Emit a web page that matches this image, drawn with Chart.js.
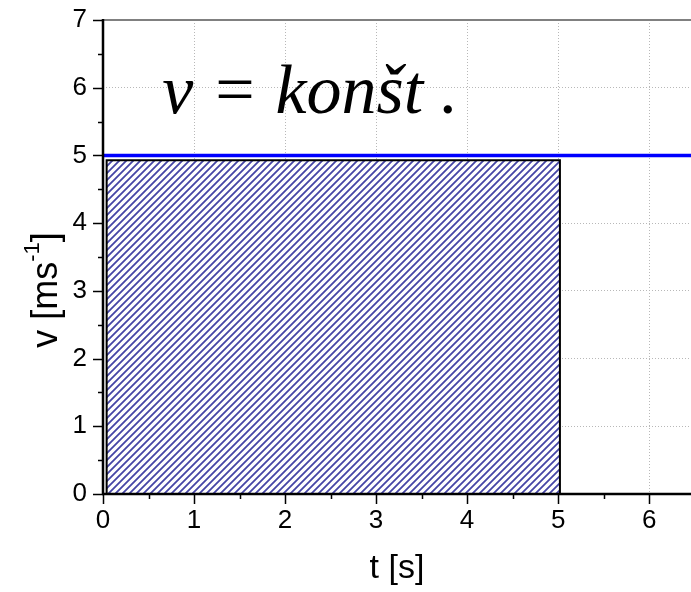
<!DOCTYPE html>
<html>
<head>
<meta charset="utf-8">
<script src="https://cdn.jsdelivr.net/npm/chart.js@4/dist/chart.umd.min.js"></script>
<style>
  html, body { margin: 0; padding: 0; background: #fff; }
  #wrap { width: 691px; height: 592px; }
</style>
</head>
<body>
<div id="wrap"><canvas id="chart" width="691" height="592"></canvas></div>
<script>
// data
const areaT = [0.04, 0.04, 5.02, 5.02];
const areaV = [0, 4.93, 4.93, 0];
const lineT = [0, 6.46];
const lineV = [5, 5];
const xTicks = [0, 1, 2, 3, 4, 5, 6];
const yTicks = [0, 1, 2, 3, 4, 5, 6, 7];
const xMinor = [0.5, 1.5, 2.5, 3.5, 4.5, 5.5];
const yMinor = [0.5, 1.5, 2.5, 3.5, 4.5, 5.5, 6.5];

const SANS = "'Liberation Sans', Arial, sans-serif";
const SERIF = "'Liberation Serif', 'Times New Roman', serif";

// hatch pattern for the area under v(t)
function hatch() {
  const n = 7;
  const c = document.createElement('canvas');
  c.width = n; c.height = n;
  const g = c.getContext('2d');
  g.fillStyle = '#fff';
  g.fillRect(0, 0, n, n);
  g.strokeStyle = '#4545a6';
  g.lineWidth = 1.8;
  g.beginPath();
  g.moveTo(-1, n + 1); g.lineTo(n + 1, -1);
  g.moveTo(-1, 1); g.lineTo(1, -1);
  g.moveTo(n - 1, n + 1); g.lineTo(n + 1, n - 1);
  g.stroke();
  return g.createPattern(c, 'repeat');
}

const axesPlugin = {
  id: 'axesPlugin',
  afterDatasetsDraw(chart) {
    const ctx = chart.ctx;
    const x = chart.scales.x, y = chart.scales.y;
    const a = chart.chartArea;
    ctx.save();
    // top frame line
    ctx.strokeStyle = '#808080';
    ctx.lineWidth = 2;
    ctx.beginPath();
    ctx.moveTo(a.left, a.top); ctx.lineTo(a.right, a.top);
    ctx.stroke();
    // axis lines
    ctx.strokeStyle = '#000';
    ctx.lineWidth = 2.5;
    ctx.beginPath();
    ctx.moveTo(a.left, a.top - 1); ctx.lineTo(a.left, a.bottom + 1);
    ctx.moveTo(a.left - 1, a.bottom); ctx.lineTo(a.right, a.bottom);
    ctx.stroke();
    // ticks
    ctx.lineWidth = 1.5;
    ctx.beginPath();
    xTicks.forEach(v => { const p = Math.round(x.getPixelForValue(v)) + 0.5; ctx.moveTo(p, a.bottom); ctx.lineTo(p, a.bottom + 10); });
    xMinor.forEach(v => { const p = Math.round(x.getPixelForValue(v)) + 0.5; ctx.moveTo(p, a.bottom); ctx.lineTo(p, a.bottom + 5); });
    yTicks.forEach(v => { const p = Math.round(y.getPixelForValue(v)) + 0.5; ctx.moveTo(a.left, p); ctx.lineTo(a.left - 10, p); });
    yMinor.forEach(v => { const p = Math.round(y.getPixelForValue(v)) + 0.5; ctx.moveTo(a.left, p); ctx.lineTo(a.left - 5, p); });
    ctx.stroke();

    // x title
    ctx.fillStyle = '#000';
    ctx.font = '34px ' + SANS;
    ctx.textAlign = 'center';
    ctx.textBaseline = 'alphabetic';
    ctx.fillText('t [s]', (a.left + a.right) / 2, 578);

    // y title with superscript
    ctx.save();
    ctx.translate(57, 290);
    ctx.rotate(-Math.PI / 2);
    ctx.textAlign = 'left';
    const big = '36px ' + SANS, small = '22px ' + SANS;
    ctx.font = big;
    const w1 = ctx.measureText('v [ms').width;
    const w3 = ctx.measureText(']').width;
    ctx.font = small;
    const w2 = ctx.measureText('-1').width;
    let cx = -(w1 + w2 + w3) / 2;
    ctx.font = big; ctx.fillText('v [ms', cx, 0); cx += w1;
    ctx.font = small; ctx.fillText('-1', cx, -18); cx += w2;
    ctx.font = big; ctx.fillText(']', cx, 0);
    ctx.restore();

    // annotation
    ctx.font = 'italic 70px ' + SERIF;
    ctx.textAlign = 'left';
    ctx.fillText('v = konšt .', x.getPixelForValue(0.65), y.getPixelForValue(5.63));
    ctx.restore();
  }
};

new Chart(document.getElementById('chart'), {
  type: 'line',
  data: {
    datasets: [{
      data: areaT.map((t, i) => ({ x: t, y: areaV[i] })),
      fill: 'origin',
      backgroundColor: hatch(),
      borderColor: '#000',
      borderWidth: 2,
      pointRadius: 0,
      tension: 0
    }, {
      data: lineT.map((t, i) => ({ x: t, y: lineV[i] })),
      fill: false,
      borderColor: '#0000ff',
      borderWidth: 3.5,
      pointRadius: 0
    }]
  },
  options: {
    responsive: false,
    animation: false,
    layout: { padding: { top: 20, right: 0, left: 0, bottom: 0 } },
    plugins: {
      legend: { display: false },
      tooltip: { enabled: false }
    },
    scales: {
      x: {
        type: 'linear',
        min: 0,
        max: 6.46,
        afterBuildTicks: s => { s.ticks = xTicks.map(v => ({ value: v })); },
        afterFit: s => { s.height = 98; s.paddingLeft = 0; s.paddingRight = 0; },
        grid: {
          drawTicks: false,
          color: c => (c.tick && c.tick.value === 0) ? 'rgba(0,0,0,0)' : '#b8b8b8',
          lineWidth: 1
        },
        border: { display: false, dash: [1, 2] },
        ticks: { color: '#000', padding: 11, font: { family: SANS, size: 26 } }
      },
      y: {
        type: 'linear',
        min: 0,
        max: 7,
        afterBuildTicks: s => { s.ticks = yTicks.map(v => ({ value: v })); },
        afterFit: s => { s.width = 103; s.paddingTop = 0; s.paddingBottom = 0; },
        grid: {
          drawTicks: false,
          color: c => (c.tick && (c.tick.value === 0 || c.tick.value === 7)) ? 'rgba(0,0,0,0)' : '#b8b8b8',
          lineWidth: 1
        },
        border: { display: false, dash: [1, 2] },
        ticks: { color: '#000', padding: 16, font: { family: SANS, size: 26 } }
      }
    }
  },
  plugins: [axesPlugin]
});
</script>
</body>
</html>
